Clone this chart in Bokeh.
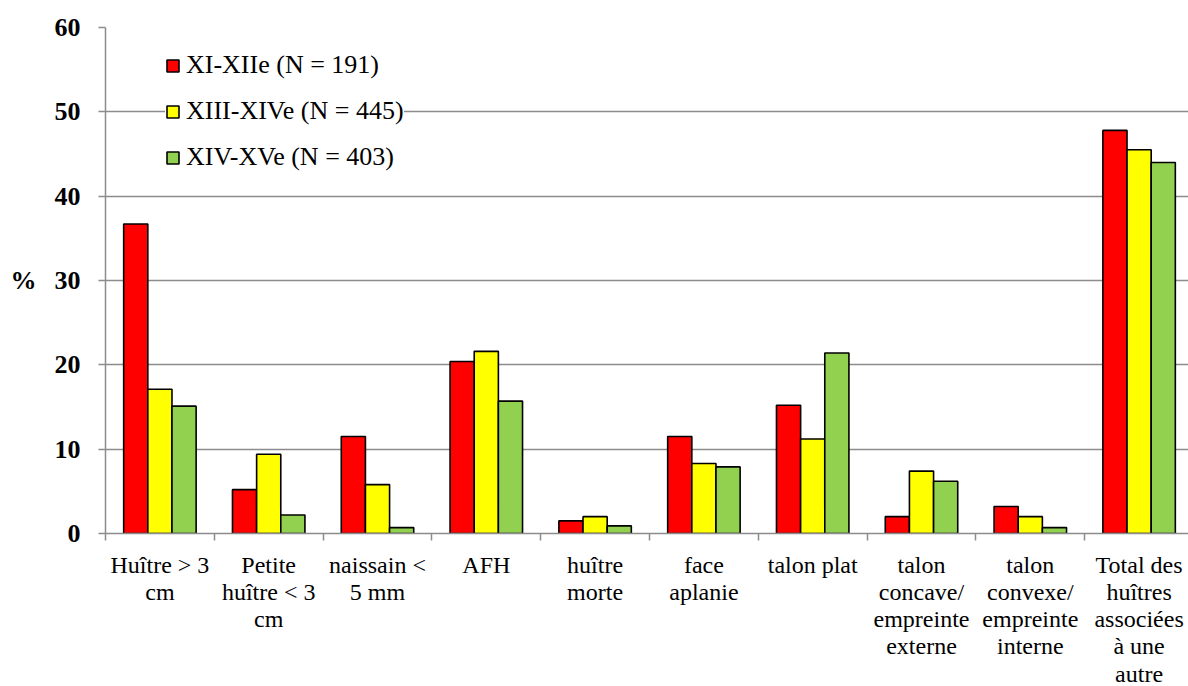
from bokeh.plotting import figure
from bokeh.layouts import column
from bokeh.models import ColumnDataSource, Range1d, FixedTicker, Legend, LegendItem
from bokeh.core.properties import value
from bokeh.embed import file_html
from bokeh.resources import INLINE

categories = ["Huître > 3\ncm", "Petite\nhuître < 3\ncm", "naissain <\n5 mm", "AFH",
              "huître\nmorte", "face\naplanie", "talon plat",
              "talon\nconcave/\nempreinte\nexterne", "talon\nconvexe/\nempreinte\ninterne",
              "Total des\nhuîtres\nassociées\nà une\nautre"]
series_names = ["XI-XIIe (N = 191)", "XIII-XIVe (N = 445)", "XIV-XVe (N = 403)"]
s1 = [36.7, 5.2, 11.5, 20.4, 1.5, 11.5, 15.2, 2.0, 3.2, 47.8]
s2 = [17.1, 9.4, 5.8, 21.6, 2.0, 8.3, 11.2, 7.4, 2.0, 45.5]
s3 = [15.1, 2.2, 0.7, 15.7, 0.9, 7.9, 21.4, 6.2, 0.7, 44.0]
yticks = [0, 10, 20, 30, 40, 50, 60]

FONT = "Liberation Serif"
GRID = "#8c8c8c"

xr = Range1d(0, 9.954)
p = figure(width=1188, height=549, output_backend="svg", toolbar_location=None,
           x_range=xr, y_range=Range1d(0, 60),
           min_border_left=105, min_border_top=27, min_border_right=0, min_border_bottom=16)
p.outline_line_color = None
p.background_fill_color = "white"
p.border_fill_color = "white"

centers = [i + 0.5 for i in range(len(categories))]
colors = ["#ff0000", "#ffff00", "#92d050"]
offsets = [-0.222, 0.0, 0.222]
renderers = []
for vals, col, off in zip([s1, s2, s3], colors, offsets):
    src = ColumnDataSource(dict(x=[c + off for c in centers], top=vals))
    r = p.vbar(x="x", top="top", bottom=0, width=0.222, source=src, fill_color=col,
               line_color="black", line_width=1.6)
    renderers.append(r)

# x axis: only the category boundary ticks
xa = p.xaxis[0]
xa.ticker = FixedTicker(ticks=[], minor_ticks=list(range(0, 11)))
xa.major_tick_line_color = None
xa.major_tick_out = 0
xa.major_label_standoff = 0
xa.minor_tick_line_color = GRID
xa.minor_tick_line_width = 1.5
xa.minor_tick_out = 7
xa.minor_tick_in = 0
xa.axis_line_color = GRID
xa.axis_line_width = 1.5

# y axis
ya = p.yaxis[0]
ya.ticker = FixedTicker(ticks=yticks)
ya.minor_tick_line_color = None
ya.major_tick_line_color = GRID
ya.major_tick_line_width = 1.5
ya.major_tick_out = 7
ya.major_tick_in = 0
ya.axis_line_color = GRID
ya.axis_line_width = 1.5
ya.major_label_text_font = FONT
ya.major_label_text_font_style = "bold"
ya.major_label_text_font_size = "26px"
ya.major_label_text_color = "black"
ya.major_label_standoff = 18
ya.axis_label = "%"
ya.axis_label_orientation = "horizontal"
ya.axis_label_text_font = FONT
ya.axis_label_text_font_style = "bold"
ya.axis_label_text_font_size = "26px"
ya.axis_label_text_color = "black"
ya.axis_label_standoff = 15

p.xgrid.grid_line_color = None
p.ygrid.grid_line_color = GRID
p.ygrid.grid_line_width = 1.5
p.ygrid.ticker = FixedTicker(ticks=yticks)

legend = Legend(items=[LegendItem(label=n, renderers=[r]) for n, r in zip(series_names, renderers)],
                location=(60, 361), orientation="vertical")
legend.border_line_color = None
legend.background_fill_color = "white"
legend.background_fill_alpha = 1.0
legend.label_text_font = FONT
legend.label_text_font_size = "26px"
legend.label_text_color = "black"
legend.glyph_width = 15
legend.glyph_height = 15
legend.label_height = 26
legend.label_standoff = 6
legend.spacing = 16
legend.padding = 13
legend.margin = 0
p.add_layout(legend)

# category labels strip, sharing the x range
q = figure(width=1188, height=137, output_backend="svg", toolbar_location=None,
           x_range=xr, y_range=Range1d(-137, 0),
           min_border_left=105, min_border_top=0, min_border_right=0, min_border_bottom=0)
q.outline_line_color = None
q.background_fill_color = "white"
q.border_fill_color = "white"
q.xaxis.visible = False
q.yaxis.visible = False
q.xgrid.visible = False
q.ygrid.visible = False
lab_src = ColumnDataSource(dict(x=centers, y=[-2] * len(centers), text=categories))
q.text(x="x", y="y", text="text", source=lab_src, text_align="center", text_baseline="top",
       text_font=value(FONT), text_font_size="24px", text_color="black", text_line_height=1.05)

layout = column(p, q, spacing=0)
open("out.html", "w").write(file_html(layout, INLINE))
